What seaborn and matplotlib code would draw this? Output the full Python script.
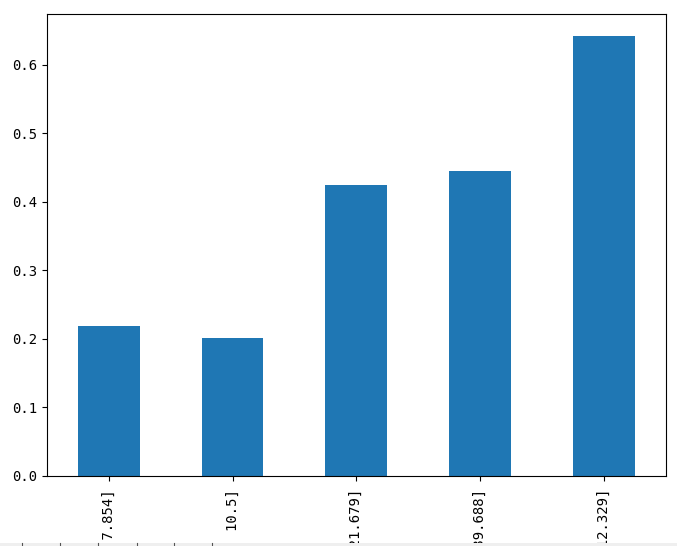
import matplotlib
matplotlib.use("Agg")
import matplotlib.pyplot as plt
from matplotlib.patches import Rectangle
from matplotlib.lines import Line2D
import seaborn as sns
import pandas as pd

# Taux de survie par tranche de tarif (quantiles)
fare_bins = ['(-0.001, 7.854]', '(7.854, 10.5]', '(10.5, 21.679]',
             '(21.679, 39.688]', '(39.688, 512.329]']
survival_rate = [0.217877, 0.201087, 0.424419, 0.444444, 0.642045]

plt.rcParams['font.family'] = ['DejaVu Sans Mono', 'Noto Sans CJK SC']
plt.rcParams['font.size'] = 10

df = pd.DataFrame({'FareBand': fare_bins, 'Survived': survival_rate})

W, H = 677, 546
fig = plt.figure(figsize=(W / 100, H / 100), dpi=100)
ax = fig.add_axes([47 / W, 1 - 475.7 / H, 618.5 / W, 461.7 / H])

sns.barplot(data=df, x='FareBand', y='Survived', order=fare_bins,
            color='#1f77b4', saturation=1, width=0.5, ax=ax)

ax.set_xlim(-0.5, len(fare_bins) - 0.5)
ax.set_ylim(0, max(survival_rate) * 1.05)
ax.set_yticks([0.0, 0.1, 0.2, 0.3, 0.4, 0.5, 0.6])
ax.tick_params(axis='x', labelrotation=90, pad=6)
ax.set_xlabel('')
ax.set_ylabel('')

# bande grise en bas (bord de la capture d'écran)
fig.add_artist(Rectangle((0, 0), 1, 3.5 / H, transform=fig.transFigure,
                         facecolor='#efefef', edgecolor='none', zorder=10))
for px in [22, 60, 98, 137, 174, 212]:
    fig.add_artist(Line2D([px / W, px / W], [0, 3.5 / H], transform=fig.transFigure,
                          color='#555555', lw=0.8, zorder=11))

fig.savefig('out.png', dpi=100)
